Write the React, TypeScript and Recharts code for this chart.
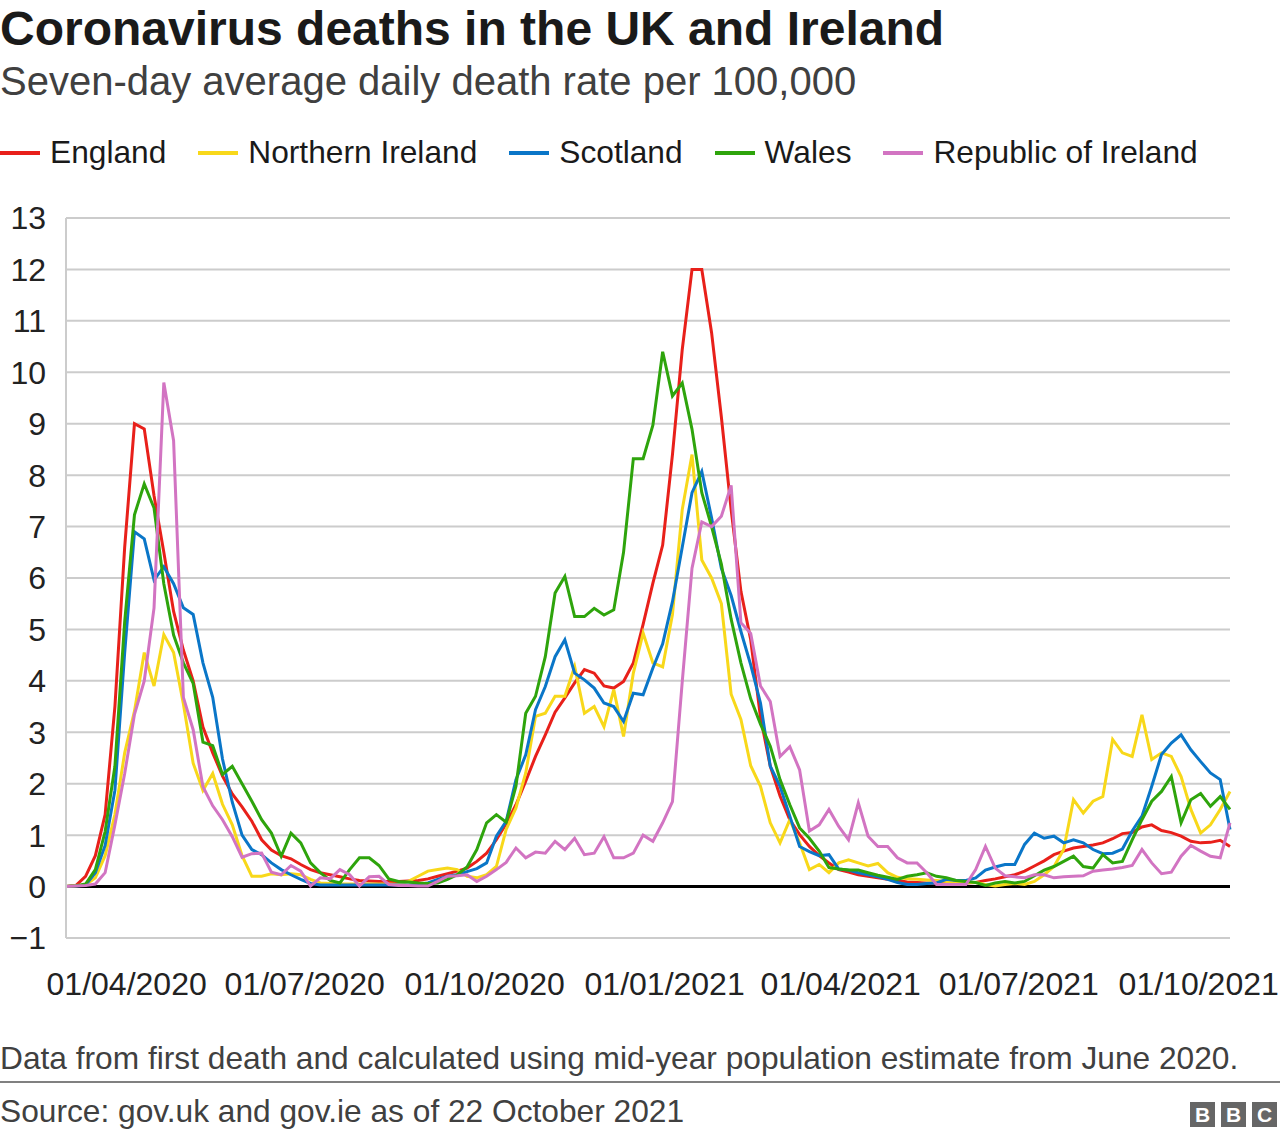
import React from "react";
import { LineChart, Line, XAxis, YAxis, CartesianGrid, ReferenceLine } from "recharts";

const FONT = "'Liberation Sans', Arial, Helvetica, sans-serif";

// one reading every 5 days, day 0 = 1 March 2020
const STEP_DAYS = 5;

const england = [
  0, 0.02, 0.2, 0.6, 1.4, 3.5, 6.6, 9.0, 8.9, 7.6,
  6.5, 5.35, 4.6, 4.0, 3.1, 2.6, 2.15, 1.8, 1.55, 1.27,
  0.91, 0.71, 0.6, 0.54, 0.43, 0.33, 0.27, 0.23, 0.19, 0.15,
  0.12, 0.11, 0.1, 0.1, 0.1, 0.11, 0.12, 0.15, 0.2, 0.25,
  0.3, 0.36, 0.49, 0.65, 0.91, 1.22, 1.59, 2.05, 2.53, 2.95,
  3.39, 3.67, 3.96, 4.22, 4.15, 3.9, 3.86, 3.99, 4.35, 5.1,
  5.9, 6.64, 8.4, 10.44, 12.0, 12.0, 10.77, 9.13, 7.33, 5.74,
  4.8, 3.29, 2.34, 1.76, 1.3, 1.01, 0.78, 0.6, 0.46, 0.33,
  0.28, 0.23, 0.2, 0.17, 0.14, 0.12, 0.09, 0.08, 0.07, 0.06,
  0.06, 0.06, 0.07, 0.08, 0.12, 0.15, 0.19, 0.23, 0.3, 0.4,
  0.5, 0.62, 0.69, 0.75, 0.78, 0.81, 0.85, 0.93, 1.03, 1.05,
  1.16, 1.2, 1.09, 1.05, 0.98, 0.88, 0.85, 0.86, 0.9, 0.78,
];

const northernIreland = [
  0, 0.02, 0.03, 0.17, 0.6, 1.4, 2.6, 3.41, 4.55, 3.9,
  4.9, 4.55, 3.55, 2.4, 1.87, 2.2, 1.6, 1.2, 0.6, 0.2,
  0.2, 0.25, 0.23, 0.25, 0.23, 0.14, 0.07, 0.06, 0.05, 0.05,
  0.05, 0.05, 0.05, 0.05, 0.04, 0.1, 0.2, 0.3, 0.33, 0.36,
  0.33, 0.2, 0.17, 0.23, 0.39, 1.11, 1.53, 2.21, 3.31, 3.37,
  3.7, 3.7, 4.28, 3.37, 3.5, 3.11, 3.83, 2.92, 4.15, 4.93,
  4.35, 4.27, 5.29, 7.33, 8.4, 6.35, 6.0, 5.5, 3.74, 3.25,
  2.35, 1.95, 1.24, 0.85, 1.3, 0.85, 0.33, 0.43, 0.27, 0.46,
  0.52, 0.46, 0.4, 0.45, 0.27, 0.18, 0.15, 0.14, 0.13, 0.12,
  0.1, 0.1, 0.08, 0.08, 0.04, 0.01, 0.04, 0.06, 0.04, 0.1,
  0.23, 0.39, 0.72, 1.69, 1.43, 1.66, 1.75, 2.86, 2.6, 2.53,
  3.34, 2.47, 2.6, 2.53, 2.14, 1.5, 1.04, 1.2, 1.5, 1.85,
];

const scotland = [
  0, 0.01, 0.03, 0.27, 0.8, 1.87, 4.55, 6.9, 6.76, 5.96,
  6.22, 5.89, 5.42, 5.29, 4.35, 3.68, 2.48, 1.64, 1.0, 0.72,
  0.62, 0.46, 0.33, 0.23, 0.14, 0.06, 0.03, 0.03, 0.03, 0.03,
  0.03, 0.03, 0.03, 0.03, 0.03, 0.03, 0.04, 0.07, 0.14, 0.2,
  0.23, 0.29, 0.35, 0.46, 0.98, 1.27, 2.08, 2.56, 3.44, 3.89,
  4.47, 4.8, 4.15, 4.02, 3.86, 3.57, 3.5, 3.21, 3.76, 3.73,
  4.25, 4.72, 5.54, 6.6, 7.66, 8.07, 7.17, 6.19, 5.66, 4.96,
  4.31, 3.57, 2.34, 1.95, 1.37, 0.78, 0.68, 0.6, 0.62, 0.34,
  0.32, 0.27, 0.23, 0.19, 0.14, 0.08, 0.04, 0.04, 0.06, 0.07,
  0.14, 0.12, 0.12, 0.17, 0.32, 0.38, 0.43, 0.43, 0.82, 1.04,
  0.94, 0.98, 0.85, 0.91, 0.85, 0.72, 0.64, 0.65, 0.73, 1.08,
  1.37, 1.95, 2.57, 2.79, 2.95, 2.66, 2.43, 2.21, 2.08, 1.11,
];

const wales = [
  0, 0.01, 0.05, 0.33, 1.07, 2.34, 5.15, 7.23, 7.83, 7.36,
  5.89, 4.89, 4.35, 3.95, 2.81, 2.74, 2.18, 2.34, 2.0, 1.66,
  1.3, 1.04, 0.59, 1.04, 0.85, 0.46, 0.27, 0.12, 0.07, 0.33,
  0.56, 0.56, 0.41, 0.15, 0.1, 0.09, 0.07, 0.06, 0.07, 0.14,
  0.23, 0.38, 0.72, 1.24, 1.4, 1.25, 1.95, 3.37, 3.7, 4.47,
  5.71, 6.03, 5.25, 5.25, 5.41, 5.28, 5.38, 6.5, 8.32, 8.32,
  8.97, 10.4, 9.54, 9.79, 8.89, 7.66, 7.0, 6.27, 5.2, 4.35,
  3.65, 3.16, 2.73, 2.08, 1.59, 1.14, 0.94, 0.69, 0.37, 0.34,
  0.32, 0.32, 0.27, 0.22, 0.18, 0.14, 0.2, 0.23, 0.27, 0.2,
  0.17, 0.12, 0.1, 0.08, 0.02, 0.07, 0.1, 0.07, 0.1, 0.21,
  0.32, 0.39, 0.49, 0.59, 0.39, 0.36, 0.62, 0.46, 0.49, 0.91,
  1.3, 1.66, 1.85, 2.14, 1.24, 1.69, 1.81, 1.56, 1.75, 1.5,
];

const republicOfIreland = [
  0, 0.01, 0.02, 0.05, 0.27, 1.2, 2.2, 3.35, 4.0, 5.42,
  9.8, 8.67, 3.68, 3.05, 1.94, 1.57, 1.3, 0.97, 0.57, 0.64,
  0.65, 0.28, 0.23, 0.41, 0.3, 0.01, 0.17, 0.15, 0.33, 0.23,
  0.01, 0.19, 0.2, 0.04, 0.02, 0.02, 0.01, 0.01, 0.1, 0.2,
  0.21, 0.23, 0.1, 0.2, 0.33, 0.47, 0.75, 0.56, 0.67, 0.65,
  0.88, 0.72, 0.94, 0.62, 0.65, 0.97, 0.56, 0.56, 0.65, 1.0,
  0.88, 1.24, 1.65, 3.98, 6.19, 7.09, 7.0, 7.2, 7.8, 5.13,
  4.92, 3.9, 3.6, 2.53, 2.72, 2.27, 1.08, 1.2, 1.5, 1.17,
  0.91, 1.63, 0.98, 0.78, 0.78, 0.56, 0.46, 0.46, 0.27, 0.04,
  0.04, 0.04, 0.04, 0.33, 0.78, 0.36, 0.21, 0.19, 0.17, 0.23,
  0.23, 0.17, 0.19, 0.2, 0.21, 0.3, 0.32, 0.34, 0.37, 0.41,
  0.72, 0.46, 0.25, 0.28, 0.59, 0.8, 0.69, 0.59, 0.56, 1.24,
];

// days since 1 March 2020 for the 1st of each quarter
const tickDays = [31, 122, 214, 306, 396, 487, 579];
const tickLabels = ["01/04/2020", "01/07/2020", "01/10/2020", "01/01/2021", "01/04/2021", "01/07/2021", "01/10/2021"];
const yTicks = [-1, 0, 1, 2, 3, 4, 5, 6, 7, 8, 9, 10, 11, 12, 13];

const SERIES = [
  { key: "england", name: "England", color: "#e8201a", values: england },
  { key: "ni", name: "Northern Ireland", color: "#f8d81a", values: northernIreland },
  { key: "scotland", name: "Scotland", color: "#0a76c8", values: scotland },
  { key: "wales", name: "Wales", color: "#2ea40c", values: wales },
  { key: "roi", name: "Republic of Ireland", color: "#d274c2", values: republicOfIreland },
];

const data = england.map((_, i) => {
  const row: Record<string, number> = { day: i * STEP_DAYS };
  for (const s of SERIES) row[s.key] = s.values[i];
  return row;
});

const fmtY = (v: number) => (v < 0 ? `\u2212${Math.abs(v)}` : String(v));
const fmtX = (v: number) => tickLabels[tickDays.indexOf(v)] ?? "";

const tickStyle = { fontSize: 32, fill: "#222222", fontFamily: FONT };

function BbcLogo() {
  return (
    <div style={{ position: "absolute", left: 1190, top: 1102, display: "flex", gap: 6 }}>
      {["B", "B", "C"].map((l, i) => (
        <div
          key={i}
          style={{
            width: 25,
            height: 25,
            background: "#666666",
            color: "#ffffff",
            fontWeight: 700,
            fontSize: 21,
            lineHeight: "25px",
            textAlign: "center",
          }}
        >
          {l}
        </div>
      ))}
    </div>
  );
}

export default function App() {
  return (
    <div
      style={{
        position: "absolute",
        left: 0,
        top: 0,
        width: 1280,
        height: 1138,
        background: "#ffffff",
        fontFamily: FONT,
        overflow: "hidden",
      }}
    >
      <div style={{ position: "absolute", left: 0, top: 1, fontSize: 48, fontWeight: 700, color: "#1a1a1a", whiteSpace: "nowrap" }}>
        Coronavirus deaths in the UK and Ireland
      </div>
      <div style={{ position: "absolute", left: 0, top: 59, fontSize: 40, color: "#404040", whiteSpace: "nowrap" }}>
        Seven-day average daily death rate per 100,000
      </div>

      {/* legend */}
      <div style={{ position: "absolute", left: 0, top: 134, display: "flex", alignItems: "center", fontSize: 31.7, color: "#1a1a1a" }}>
        {SERIES.map((s) => (
          <div key={s.key} style={{ display: "flex", alignItems: "center", marginRight: 32, whiteSpace: "nowrap" }}>
            <span style={{ display: "inline-block", width: 40, height: 4, background: s.color, marginRight: 10 }} />
            <span>{s.name}</span>
          </div>
        ))}
      </div>

      <div style={{ position: "absolute", left: 0, top: 0 }}>
        <LineChart width={1280} height={1010} data={data} margin={{ top: 218, right: 50, bottom: 0, left: 6 }}>
          <CartesianGrid vertical={false} stroke="#cccccc" strokeWidth={2} />
          <XAxis
            dataKey="day"
            type="number"
            domain={[0, 595]}
            ticks={tickDays}
            interval={0}
            tickFormatter={fmtX}
            axisLine={false}
            tickLine={false}
            tickSize={0}
            tickMargin={34}
            height={72}
            tick={tickStyle}
          />
          <YAxis
            type="number"
            domain={[-1, 13]}
            ticks={yTicks}
            interval={0}
            tickFormatter={fmtY}
            axisLine={{ stroke: "#cccccc", strokeWidth: 2 }}
            tickLine={false}
            tickSize={0}
            tickMargin={20}
            width={60}
            tick={tickStyle}
          />
          <ReferenceLine y={0} stroke="#000000" strokeWidth={3} />
          {SERIES.map((s) => (
            <Line
              key={s.key}
              type="linear"
              dataKey={s.key}
              name={s.name}
              stroke={s.color}
              strokeWidth={3}
              dot={false}
              activeDot={false}
              isAnimationActive={false}
            />
          ))}
        </LineChart>
      </div>

      <div style={{ position: "absolute", left: 0, top: 1040, fontSize: 31.7, color: "#404040", whiteSpace: "nowrap" }}>
        Data from first death and calculated using mid-year population estimate from June 2020.
      </div>
      <div style={{ position: "absolute", left: 0, top: 1081, width: 1280, height: 2, background: "#808080" }} />
      <div style={{ position: "absolute", left: 0, top: 1093, fontSize: 31.7, color: "#404040", whiteSpace: "nowrap" }}>
        Source: gov.uk and gov.ie as of 22 October 2021
      </div>
      <BbcLogo />
    </div>
  );
}
